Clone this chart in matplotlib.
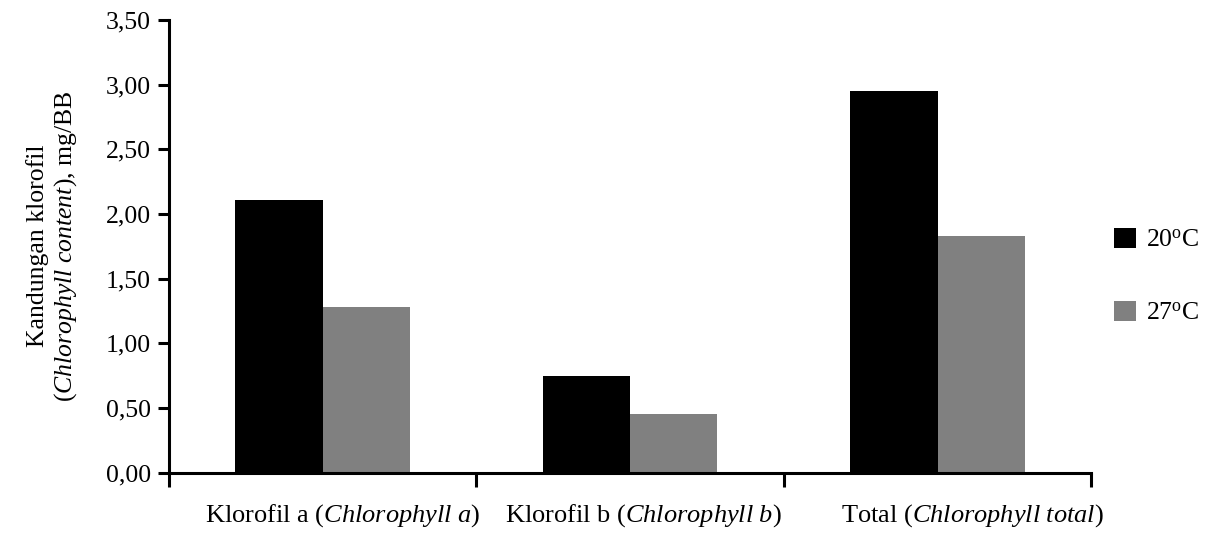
import numpy as np
import matplotlib.pyplot as plt

plt.rcParams['font.family'] = ['Liberation Serif', 'DejaVu Serif']
plt.rcParams['mathtext.fontset'] = 'custom'
plt.rcParams['mathtext.rm'] = 'Liberation Serif'
plt.rcParams['mathtext.it'] = 'Liberation Serif:italic'

# Data
categories = [r'Klorofil a $\it{(Chlorophyll\ a)}$',
              r'Klorofil b $\it{(Chlorophyll\ b)}$',
              r'Total $\it{(Chlorophyll\ total)}$']
t20 = [2.11, 0.75, 2.95]
t27 = [1.28, 0.45, 1.83]
series_labels = [r'20$^{\mathrm{o}}$C', r'27$^{\mathrm{o}}$C']
ytick_vals = [0, 0.5, 1.0, 1.5, 2.0, 2.5, 3.0, 3.5]
label_shift = [0.064, 0.042, 0.114]  # category labels sit right of centre in the original

fs = 18.5
fig = plt.figure(figsize=(12.05, 5.33), dpi=100)
ax = fig.add_axes([0.1402, 0.1135, 0.7654, 0.849])

x = np.arange(len(categories))
w = 0.284
ax.bar(x - w / 2, t20, w, color='black', label=series_labels[0])
ax.bar(x + w / 2, t27, w, color='#808080', label=series_labels[1])

ax.set_xlim(-0.5, len(categories) - 0.5)
ax.set_ylim(0, 3.5)
ax.set_yticks(ytick_vals)
ax.set_yticklabels([f'{v:.2f}'.replace('.', ',') for v in ytick_vals], fontsize=fs)

# category labels between boundary ticks
ax.set_xticks(np.arange(-0.5, len(categories), 1.0))
ax.set_xticklabels([])
ax.set_xticks(x + np.array(label_shift), minor=True)
ax.set_xticklabels(categories, minor=True, fontsize=19)
ax.tick_params(axis='x', which='minor', length=0, pad=21)
ax.tick_params(axis='x', which='major', direction='out', length=10, width=2.2)
ax.tick_params(axis='y', direction='out', length=8, width=2.2, pad=5)

for s in ['top', 'right']:
    ax.spines[s].set_visible(False)
for s in ['left', 'bottom']:
    ax.spines[s].set_linewidth(2.2)

ax.set_ylabel('Kandungan klorofil\n' + r'($\it{Chlorophyll\ content}$), mg/BB',
              fontsize=fs, linespacing=1.2)
ax.yaxis.set_label_coords(-0.097, 0.50)

ax.legend(loc='center left', bbox_to_anchor=(1.0, 0.434), frameon=False,
          fontsize=fs, handlelength=0.85, handleheight=0.85, labelspacing=1.9,
          handletextpad=0.4)

fig.savefig('out.png', dpi=100)
